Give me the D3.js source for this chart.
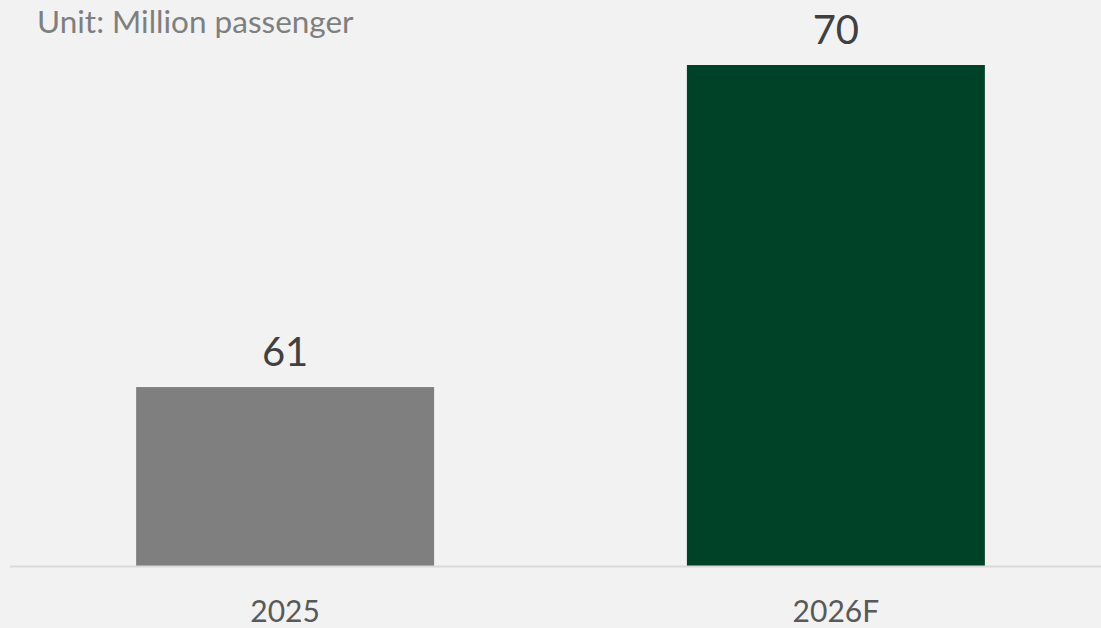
<!DOCTYPE html>
<html>
<head>
<meta charset="utf-8">
<script src="https://cdn.jsdelivr.net/npm/d3@7"></script>
<style>
  body { margin: 0; background: #f2f2f2; }
  svg { display: block; font-family: Lato, "Open Sans", sans-serif; }
</style>
</head>
<body>
<svg id="chart"></svg>
<script>
var categories = ["2025", "2026F"];
var values = [61, 70];
var barColors = ["#7f7f7f", "#004228"];
var unitLabel = "Unit: Million passenger";

var width = 1101, height = 628;
var baseY = 566;

var svg = d3.select("#chart")
  .attr("width", width)
  .attr("height", height);

svg.append("rect")
  .attr("width", width)
  .attr("height", height)
  .attr("fill", "#f2f2f2");

// x band over the whole plot strip
var x = d3.scaleBand()
  .domain(categories)
  .range([10, 1111])
  .paddingInner(0.459)
  .paddingOuter(0.229);

// axis does not start at zero
var y = d3.scaleLinear()
  .domain([56, 70])
  .range([baseY, 65]);

svg.selectAll("rect.bar")
  .data(values)
  .enter().append("rect")
  .attr("class", "bar")
  .attr("x", (d, i) => x(categories[i]))
  .attr("y", d => y(d))
  .attr("width", x.bandwidth())
  .attr("height", d => baseY - y(d))
  .attr("fill", (d, i) => barColors[i]);

svg.selectAll("text.val")
  .data(values)
  .enter().append("text")
  .attr("class", "val")
  .attr("x", (d, i) => x(categories[i]) + x.bandwidth() / 2)
  .attr("y", d => y(d) - 21)
  .attr("text-anchor", "middle")
  .attr("font-size", 40)
  .attr("fill", "#404040")
  .text(d => d);

// baseline
svg.append("line")
  .attr("x1", 10)
  .attr("x2", width)
  .attr("y1", baseY + 0.5)
  .attr("y2", baseY + 0.5)
  .attr("stroke", "#d9d9d9")
  .attr("stroke-width", 2);

svg.selectAll("text.cat")
  .data(categories)
  .enter().append("text")
  .attr("class", "cat")
  .attr("x", d => x(d) + x.bandwidth() / 2)
  .attr("y", 622)
  .attr("text-anchor", "middle")
  .attr("font-size", 30)
  .attr("fill", "#595959")
  .text(d => d);

svg.append("text")
  .attr("x", 37)
  .attr("y", 33)
  .attr("font-size", 31.5)
  .attr("fill", "#7f7f7f")
  .text(unitLabel);
</script>
</body>
</html>
